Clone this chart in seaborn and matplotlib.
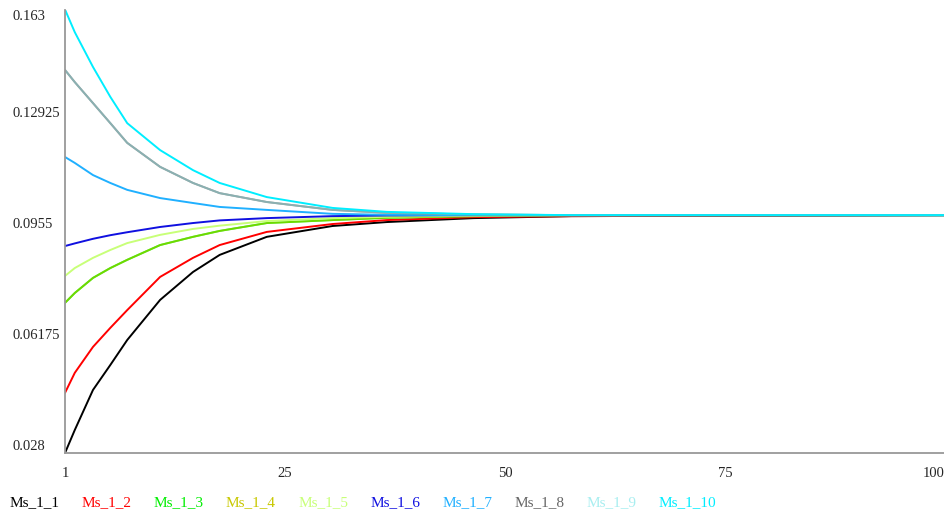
import matplotlib
matplotlib.use("Agg")
import matplotlib.pyplot as plt
import seaborn as sns
import numpy as np
import pandas as pd

# values
steps = [1, 2.1, 4.15, 6.1, 8, 11.7, 15.4, 18.4, 23.7, 31.1, 37.2, 47, 58, 100]

ms_1_1 = [0.0280, 0.0350, 0.0472, 0.0548, 0.0624, 0.0746, 0.0831, 0.0883, 0.0938, 0.0971, 0.0983, 0.0995, 0.1001, 0.1004]
ms_1_2 = [0.0463, 0.0524, 0.0603, 0.0661, 0.0715, 0.0816, 0.0874, 0.0913, 0.0953, 0.0977, 0.0989, 0.0998, 0.1001, 0.1004]
ms_1_3 = [0.0737, 0.0767, 0.0813, 0.0843, 0.0868, 0.0913, 0.0938, 0.0956, 0.0980, 0.0989, 0.0996, 0.1001, 0.1004, 0.1004]
ms_1_4 = [0.0737, 0.0767, 0.0813, 0.0843, 0.0868, 0.0913, 0.0938, 0.0956, 0.0980, 0.0989, 0.0996, 0.1001, 0.1004, 0.1004]
ms_1_5 = [0.0819, 0.0843, 0.0874, 0.0898, 0.0919, 0.0944, 0.0962, 0.0972, 0.0986, 0.0995, 0.0999, 0.1002, 0.1004, 0.1004]
ms_1_6 = [0.0910, 0.0918, 0.0932, 0.0943, 0.0952, 0.0968, 0.0980, 0.0988, 0.0995, 0.1001, 0.1003, 0.1004, 0.1004, 0.1004]
ms_1_7 = [0.1181, 0.1163, 0.1126, 0.1102, 0.1081, 0.1056, 0.1041, 0.1029, 0.1020, 0.1008, 0.1005, 0.1004, 0.1004, 0.1004]
ms_1_8 = [0.1446, 0.1409, 0.1345, 0.1284, 0.1224, 0.1151, 0.1102, 0.1071, 0.1044, 0.1020, 0.1011, 0.1006, 0.1004, 0.1004]
ms_1_9 = [0.1446, 0.1409, 0.1345, 0.1284, 0.1224, 0.1151, 0.1102, 0.1071, 0.1044, 0.1020, 0.1011, 0.1006, 0.1004, 0.1004]
ms_1_10 = [0.1630, 0.1561, 0.1455, 0.1364, 0.1284, 0.1202, 0.1141, 0.1102, 0.1059, 0.1026, 0.1014, 0.1007, 0.1004, 0.1004]

names = ["Ms_1_1", "Ms_1_2", "Ms_1_3", "Ms_1_4", "Ms_1_5",
         "Ms_1_6", "Ms_1_7", "Ms_1_8", "Ms_1_9", "Ms_1_10"]
series = [ms_1_1, ms_1_2, ms_1_3, ms_1_4, ms_1_5, ms_1_6, ms_1_7, ms_1_8, ms_1_9, ms_1_10]
colors = ["#000000", "#ff0000", "#00ee00", "#c8c800", "#c8ff78",
          "#1010e0", "#20b0ff", "#666666", "#a8eef0", "#00eeff"]
alphas = [1, 1, 1, 0.55, 1, 1, 1, 1, 0.55, 1]

y_ticks = [0.028, 0.06175, 0.0955, 0.12925, 0.163]
x_tick_labels = ["1", "25", "50", "75", "100"]

sns.set_style("white")
plt.rcParams["font.family"] = ["Liberation Serif", "DejaVu Serif"]

fig = plt.figure(figsize=(9.45, 5.12), dpi=100)
ax = fig.add_axes([65/945, 1 - 453/512, (945 - 65)/945, (453 - 9.5)/512])

for name, vals, col, a in zip(names, series, colors, alphas):
    df = pd.DataFrame({"step": steps, "value": vals})
    sns.lineplot(data=df, x="step", y="value", ax=ax, color=col, alpha=a,
                 linewidth=1.4, label=name)

ax.set_xlim(1, 100)
ax.set_ylim(0.028, 0.163)
ax.set_xlabel("")
ax.set_ylabel("")

ax.set_yticks(y_ticks)
ax.set_yticklabels([f"{v:g}" for v in y_ticks], ha="left", va="bottom")
ax.get_yticklabels()[-1].set_va("top")
ax.set_xticks(np.linspace(1, 100, len(x_tick_labels)))
ax.set_xticklabels(x_tick_labels)
ax.get_xticklabels()[-1].set_ha("right")

ax.tick_params(axis="y", direction="inout", length=8, width=1.3, color="#444444",
               labelsize=10.5, pad=34)
ax.tick_params(axis="x", direction="inout", length=8, width=1.3, color="#444444",
               labelsize=10.5, pad=6)
for side in ["top", "right"]:
    ax.spines[side].set_visible(False)
for side in ["left", "bottom"]:
    ax.spines[side].set_color("#999999")
    ax.spines[side].set_linewidth(1.3)

leg = ax.legend(loc="upper left", bbox_to_anchor=(-0.063, -0.095), ncol=10,
                frameon=False, handlelength=0, handletextpad=0, columnspacing=1.45,
                fontsize=11, borderaxespad=0, borderpad=0)
for txt, col in zip(leg.get_texts(), colors):
    txt.set_color(col)
for h in leg.legend_handles:
    h.set_visible(False)

fig.savefig("out.png", dpi=100, facecolor="white")
